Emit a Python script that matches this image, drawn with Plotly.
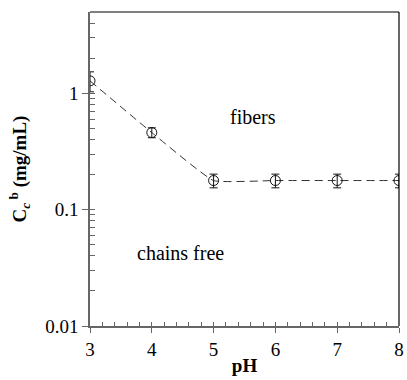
import plotly.graph_objects as go

ph = [3, 4, 5, 6, 7, 8]
conc = [1.28, 0.46, 0.178, 0.178, 0.178, 0.178]
err = [0.25, 0.045, 0.024, 0.024, 0.024, 0.024]

major_y = [0.01, 0.1, 1]
major_y_text = ["0.01", "0.1", "1"]
minor_y = [m * 10 ** e for e in (-2, -1, 0) for m in range(1, 10) if m * 10 ** e <= 5.0001]
major_x = [3, 4, 5, 6, 7, 8]
minor_x = [3 + 0.2 * i for i in range(26)]

font = "Times New Roman"
axcol = "#666666"

fig = go.Figure()
fig.add_trace(go.Scatter(
    x=ph, y=conc, mode="lines",
    line=dict(color="#333333", width=1, dash="8px,5px", shape="spline", smoothing=0.35),
    showlegend=False, hoverinfo="skip"))
fig.add_trace(go.Scatter(
    x=ph, y=conc, mode="markers",
    marker=dict(symbol="circle-open", size=10, color="#111111", line=dict(width=1)),
    error_y=dict(type="data", array=err, color="#111111", thickness=1, width=4),
    showlegend=False))
fig.add_trace(go.Scatter(x=[3], y=[1], xaxis="x2", yaxis="y2", mode="markers",
                         marker=dict(opacity=0), showlegend=False, hoverinfo="skip"))

fig.update_layout(
    width=407, height=380,
    margin=dict(l=90, r=3, t=12, b=54),
    paper_bgcolor="white", plot_bgcolor="white",
    font=dict(family=font, size=19, color="black"),
    xaxis=dict(range=[3, 8], tickvals=major_x, ticks="outside", ticklen=5,
               tickcolor=axcol, showline=True, linecolor=axcol, linewidth=1.5,
               showgrid=False, zeroline=False, ticklabeloverflow="allow",
               tickfont=dict(family=font, size=19),
               title=dict(text="<b>pH</b>", standoff=0, font=dict(family=font, size=19))),
    yaxis=dict(type="log", range=[-2, 0.69897], tickvals=major_y, ticktext=major_y_text,
               ticks="outside", ticklen=6, tickcolor=axcol, showline=True,
               linecolor=axcol, linewidth=1.5, showgrid=False, zeroline=False,
               tickfont=dict(family=font, size=19),
               title=dict(text="<b>C<sub><i>c</i></sub><sup> b</sup> (mg/mL)</b>",
                          standoff=14, font=dict(family=font, size=19))),
    xaxis2=dict(overlaying="x", range=[3, 8], tickvals=minor_x, ticks="inside",
                ticklen=4, tickcolor=axcol, showticklabels=False, showgrid=False,
                zeroline=False, showline=False, anchor="y2"),
    yaxis2=dict(overlaying="y", type="log", range=[-2, 0.69897], tickvals=minor_y,
                ticks="inside", ticklen=5, tickcolor=axcol, showticklabels=False,
                showgrid=False, zeroline=False, showline=False, anchor="x2"),
    shapes=[
        dict(type="line", xref="paper", yref="paper", x0=0, x1=1, y0=1, y1=1,
             line=dict(color="black", width=1.2)),
        dict(type="line", xref="paper", yref="paper", x0=1, x1=1, y0=0, y1=1,
             line=dict(color="black", width=1.2)),
    ],
    annotations=[
        dict(x=5.64, y=-0.203, xref="x", yref="y", text="fibers",
             showarrow=False, font=dict(family=font, size=20)),
        dict(x=4.47, y=-1.375, xref="x", yref="y", text="chains free",
             showarrow=False, font=dict(family=font, size=20)),
    ],
)

fig.write_html("out.html")
